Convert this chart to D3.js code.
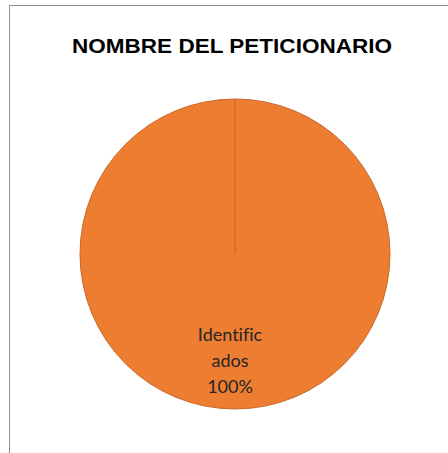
<!DOCTYPE html>
<html>
<head>
<meta charset="utf-8">
<script src="https://cdn.jsdelivr.net/npm/d3@7"></script>
<style>
  body { margin: 0; background: #fff; }
</style>
</head>
<body>
<div class="pie-chart"></div>
<script>
var categories = ["Identificados"];
var values = [100];
var labelLines = [["Identific", "ados", "100%"]];
var title = "NOMBRE DEL PETICIONARIO";

var W = 448, H = 453,
    cx = 235, cy = 254, radius = 155;

var svg = d3.select(".pie-chart").append("svg")
    .attr("width", W)
    .attr("height", H);

// frame (only top and left show in the crop)
svg.append("line").attr("x1", 9.5).attr("y1", 5.5).attr("x2", W).attr("y2", 5.5)
    .attr("stroke", "#8c8c8c").attr("stroke-width", 1);
svg.append("line").attr("x1", 9.5).attr("y1", 5.5).attr("x2", 9.5).attr("y2", H)
    .attr("stroke", "#8c8c8c").attr("stroke-width", 1);

// title is a bit wider than Arial, so stretch it
svg.append("text")
    .attr("x", 232)
    .attr("y", 53)
    .attr("text-anchor", "middle")
    .attr("font-family", "Liberation Sans, Arial, sans-serif")
    .attr("font-weight", "bold")
    .attr("font-size", "20px")
    .attr("textLength", 320)
    .attr("lengthAdjust", "spacingAndGlyphs")
    .attr("fill", "#000")
    .text(title);

var pie = d3.pie().sort(null)(values);
var arc = d3.arc().innerRadius(0).outerRadius(radius);

var g = svg.append("g").attr("transform", "translate(" + cx + "," + cy + ")");

g.selectAll("path.slice")
    .data(pie)
    .enter().append("path")
    .attr("class", "slice")
    .attr("d", arc)
    .attr("fill", "#ed7d31")
    .attr("stroke", "#c8682a")
    .attr("stroke-width", 1);

// slice border from the centre
g.selectAll("line.edge")
    .data(pie)
    .enter().append("line")
    .attr("class", "edge")
    .attr("x1", 0).attr("y1", 0)
    .attr("x2", function(d) { return d3.pointRadial(d.startAngle, radius)[0]; })
    .attr("y2", function(d) { return d3.pointRadial(d.startAngle, radius)[1]; })
    .attr("stroke", "#c8682a")
    .attr("stroke-width", 1.2);

var lbl = g.selectAll("text.lbl")
    .data(pie)
    .enter().append("text")
    .attr("class", "lbl")
    .attr("text-anchor", "middle")
    .attr("font-family", "Lato, Open Sans, sans-serif")
    .attr("font-size", "18px")
    .style("font-variant-ligatures", "none")
    .attr("fill", "#262626");

lbl.selectAll("tspan")
    .data(function(d, i) { return labelLines[i]; })
    .enter().append("tspan")
    .attr("x", -5)
    .attr("y", function(d, j) { return 87 + j * 26; })
    .text(function(d) { return d; });
</script>
</body>
</html>
